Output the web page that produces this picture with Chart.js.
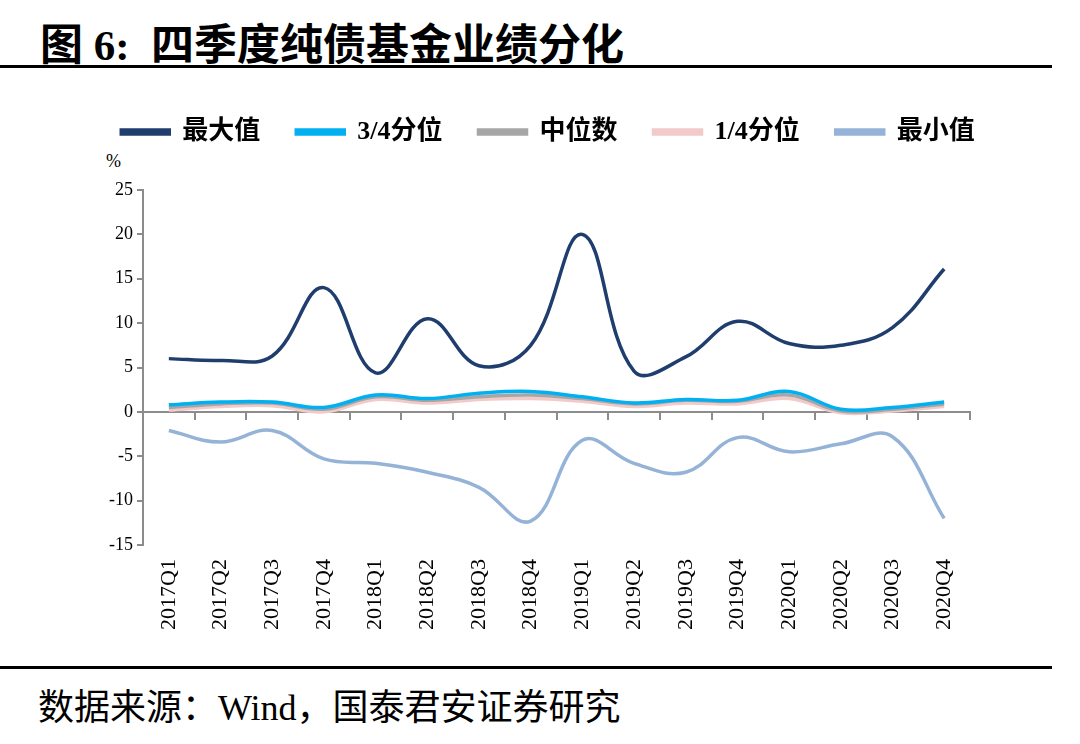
<!DOCTYPE html>
<html>
<head>
<meta charset="utf-8">
<script src="https://cdn.jsdelivr.net/npm/chart.js@4.4.1/dist/chart.umd.min.js"></script>
<style>
    body { margin: 0; background: #ffffff; }
    #page { position: relative; width: 1080px; height: 744px; overflow: hidden; }
    #title {
        position: absolute; left: 40px; top: 10px;
        font: bold 43px "Liberation Serif", "Noto Sans CJK SC", serif;
        color: #000;
    }
    .rule { position: absolute; left: 0; width: 1052px; height: 3px; background: #000; }
    #unit { position: absolute; left: 106px; top: 151px; font: 18px "Liberation Serif", serif; color: #000; }
    #source {
        position: absolute; left: 38px; top: 678px;
        font: 36px "Liberation Serif", "Noto Sans CJK SC", serif;
        color: #000;
    }
    #chartBox { position: absolute; left: 0; top: 83px; width: 1080px; height: 577px; }
</style>
</head>
<body>
<div id="page">
    <div id="title">图 6:&nbsp; 四季度纯债基金业绩分化</div>
    <div class="rule" style="top:65px"></div>
    <div id="unit">%</div>
    <div id="chartBox"><canvas id="fundChart"></canvas></div>
    <div class="rule" style="top:666px"></div>
    <div id="source">数据来源：Wind，国泰君安证券研究</div>
</div>

<script>
// ─── Data ───────────────────────────────────────────────────────────────────
const QUARTERS = ["2017Q1", "2017Q2", "2017Q3", "2017Q4", "2018Q1", "2018Q2", "2018Q3", "2018Q4",
                  "2019Q1", "2019Q2", "2019Q3", "2019Q4", "2020Q1", "2020Q2", "2020Q3", "2020Q4"];

const MAX_VALUES    = [6.0, 5.8, 6.3, 14.0, 4.4, 10.5, 5.2, 7.5, 20.0, 4.6, 6.2, 10.2, 7.7, 7.5, 9.5, 16.1];
const Q3_VALUES     = [0.8, 1.1, 1.1, 0.5, 1.9, 1.5, 2.1, 2.3, 1.7, 1.0, 1.4, 1.3, 2.3, 0.3, 0.5, 1.1];
const MEDIAN_VALUES = [0.5, 0.9, 1.0, 0.3, 1.7, 1.3, 1.7, 1.9, 1.5, 0.9, 1.3, 1.2, 1.9, 0.1, 0.3, 0.9];
const Q1_VALUES     = [0.2, 0.6, 0.7, 0.0, 1.4, 1.0, 1.4, 1.5, 1.2, 0.6, 1.0, 0.9, 1.5, -0.1, 0.1, 0.6];
const MIN_VALUES    = [-2.1, -3.4, -2.1, -5.3, -5.8, -6.8, -8.5, -12.3, -3.2, -5.8, -6.8, -2.9, -4.5, -3.6, -2.8, -12.0];

const SERIES_NAMES  = ["最大值", "3/4分位", "中位数", "1/4分位", "最小值"];
const SERIES_COLORS = ["#1f3e6e", "#00b0f0", "#a6a6a6", "#f2caca", "#95b3d7"];

const AXIS_COLOR    = "#8c8c8c";
const LEGEND_HEIGHT = 107;   // pushes the plot top down to the "25" line
const LEGEND_SHIFT  = 63;    // legend sits right of the canvas centre in the reference

// ─── Chart ──────────────────────────────────────────────────────────────────
const allValues = [MAX_VALUES, Q3_VALUES, MEDIAN_VALUES, Q1_VALUES, MIN_VALUES];

const datasets = SERIES_NAMES.map((name, i) => ({
    label: name,
    data: allValues[i],
    borderColor: SERIES_COLORS[i],
    backgroundColor: SERIES_COLORS[i],
    borderWidth: 3.5,
    pointRadius: 0,
    tension: 0.4,
    fill: false,
}));

// legend gets a fixed height and a small sideways shift
const legendPlacePlugin = {
    id: "legendPlace",
    beforeLayout(chart) {
        const legend = chart.legend;
        if (!legend || legend._heightPatched) return;
        const origFit = legend.fit.bind(legend);
        legend.fit = function () {
            origFit();
            this.height = LEGEND_HEIGHT;
        };
        legend._heightPatched = true;
    },
    afterLayout(chart) {
        const legend = chart.legend;
        if (!legend) return;
        legend.left += LEGEND_SHIFT;
        legend.right += LEGEND_SHIFT;
    },
};

const ctx = document.getElementById("fundChart").getContext("2d");

new Chart(ctx, {
    type: "line",
    data: { labels: QUARTERS, datasets: datasets },
    plugins: [legendPlacePlugin],
    options: {
        responsive: true,
        maintainAspectRatio: false,
        animation: false,
        layout: { padding: { left: 0, right: 110, top: 0, bottom: 0 } },
        plugins: {
            legend: {
                position: "top",
                labels: {
                    boxWidth: 48,
                    boxHeight: 4,
                    padding: 36,
                    color: "#000",
                    font: { family: "Liberation Serif, Noto Sans CJK SC", size: 26, weight: "bold" },
                },
            },
            tooltip: { enabled: false },
        },
        scales: {
            x: {
                type: "category",
                position: "bottom",
                offset: true,
                border: { display: false },
                grid: { display: false, drawTicks: false, offset: true },
                ticks: {
                    color: "#000",
                    font: { family: "Liberation Serif", size: 22 },
                    minRotation: 90,
                    maxRotation: 90,
                    autoSkip: false,
                    padding: 14,
                },
                afterFit: (scale) => { scale.height = 115; },
            },
            x2: {
                type: "category",
                position: { y: 0 },
                offset: true,
                border: { display: true, color: AXIS_COLOR, width: 2 },
                grid: { display: true, drawOnChartArea: false, offset: true, tickLength: 7, color: AXIS_COLOR, lineWidth: 2 },
                ticks: { display: false },
                afterFit: (scale) => { scale.height = 0; },
            },
            y: {
                min: -15,
                max: 25,
                border: { display: true, color: AXIS_COLOR, width: 2 },
                grid: { display: true, drawOnChartArea: false, tickLength: 6, color: AXIS_COLOR, lineWidth: 2 },
                ticks: { stepSize: 5, color: "#000", font: { family: "Liberation Serif", size: 18 }, padding: 4 },
                afterFit: (scale) => { scale.width = 143; },
            },
        },
    },
});
</script>
</body>
</html>
